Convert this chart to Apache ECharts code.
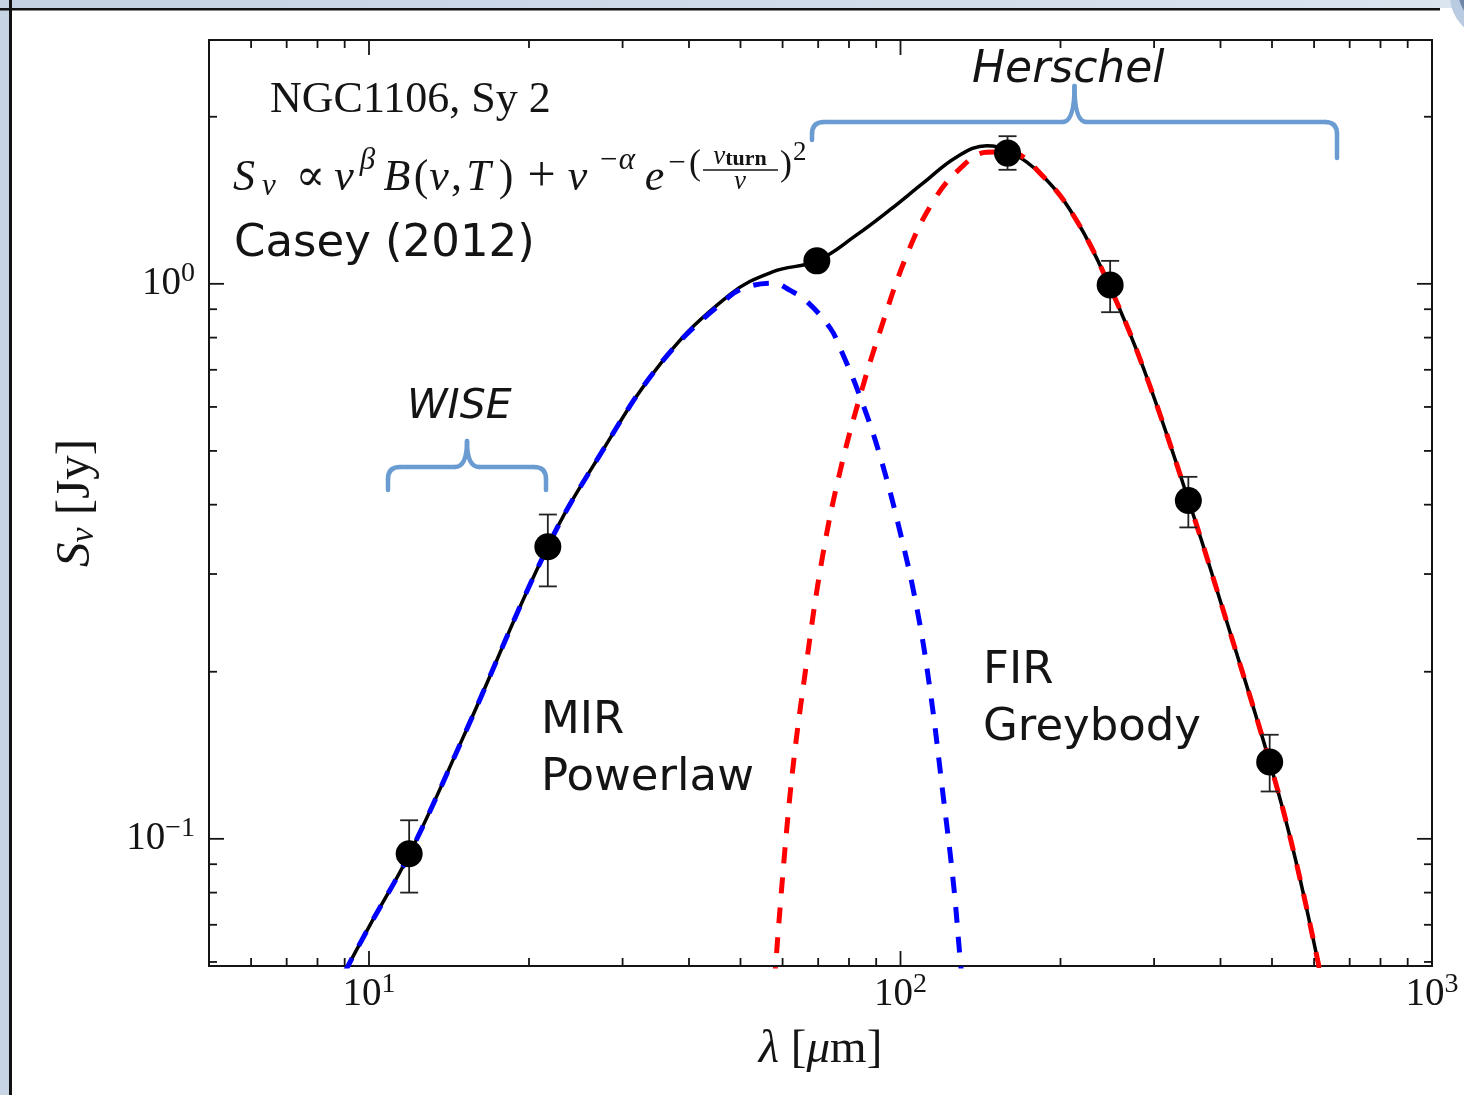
<!DOCTYPE html>
<html>
<head>
<meta charset="utf-8">
<title>NGC1106 SED</title>
<script src="https://cdn.jsdelivr.net/npm/echarts@6.0.0/dist/echarts.min.js"></script>
<style>
  html, body { margin: 0; padding: 0; background: #fff; }
  #chart { width: 1464px; height: 1095px; }
</style>
</head>
<body>
<div id="chart"></div>
<script>
  // photometry: WISE + Herschel (wavelength um, flux Jy, error range)
  const obsWave = [11.9, 21.7, 69.6, 159, 248, 348, 495];
  const obsFlux = [0.094, 0.336, 1.10, 1.72, 0.995, 0.407, 0.1375];
  const obsLow = [0.080, 0.285, 1.08, 1.605, 0.889, 0.364, 0.1217];
  const obsHigh = [0.108, 0.384, 1.12, 1.845, 1.10, 0.449, 0.154];

  // total fit (black)
  const fitWave = [9.0, 10.0, 11.92, 15.02, 21.69, 26.78, 35.75, 47.74, 57.61, 69.6, 82.7, 95.6, 110.4, 127.6, 145.3, 159.4, 185.6, 214.6, 248.0, 286.6, 348.3, 411.6, 495.0, 550, 612.1, 640];
  const fitFlux = [0.0575, 0.0694, 0.094, 0.152, 0.3358, 0.48, 0.7278, 0.9566, 1.052, 1.100, 1.225, 1.36, 1.52, 1.693, 1.773, 1.737, 1.561, 1.299, 0.985, 0.704, 0.4073, 0.245, 0.1375, 0.0942, 0.0592, 0.0475];

  // MIR power law (blue dashed)
  const mirWave = [9.0, 10.0, 11.92, 15.02, 21.69, 26.78, 35.75, 47.74, 52.06, 57.61, 62.0, 66.6, 73.7, 76.9, 83.9, 91.5, 99.8, 107.3, 113.6, 120.4, 125.8, 129.4, 131.5];
  const mirFlux = [0.0575, 0.0694, 0.094, 0.152, 0.3358, 0.48, 0.7278, 0.950, 0.990, 1.003, 0.973, 0.930, 0.833, 0.768, 0.627, 0.490, 0.3576, 0.2610, 0.1863, 0.1188, 0.0830, 0.0612, 0.052];

  // FIR greybody (red dashed)
  const firWave = [57.9, 61.9, 66.6, 71.5, 76.9, 83.9, 91.5, 102.7, 115.3, 129.4, 145.3, 159.4, 185.6, 214.6, 248.0, 286.6, 348.3, 411.6, 495.0, 550, 612.1, 640];
  const firFlux = [0.055, 0.1188, 0.2085, 0.3268, 0.4577, 0.627, 0.821, 1.125, 1.409, 1.613, 1.726, 1.728, 1.561, 1.299, 0.985, 0.704, 0.4073, 0.245, 0.1375, 0.0942, 0.0592, 0.0475];

  // axis ticks
  const xMajorTicks = [10, 100, 1000];
  const xMinorTicks = [6, 7, 8, 9, 20, 30, 40, 50, 60, 70, 80, 90, 200, 300, 400, 500, 600, 700, 800, 900];
  const yMajorTicks = [0.1, 1];
  const yMinorTicks = [0.06, 0.07, 0.08, 0.09, 0.2, 0.3, 0.4, 0.5, 0.6, 0.7, 0.8, 0.9, 2];

  const SERIF = '"Liberation Serif", "DejaVu Serif", serif';
  const SANS = '"DejaVu Sans", sans-serif';
  const INK = '#141414';
  const BRACE = '#6a9bd1';

  const pairs = (xs, ys) => xs.map((x, i) => [x, ys[i]]);

  function powLabel(v) {
    const e = Math.round(Math.log10(v));
    if (Math.abs(v / Math.pow(10, e) - 1) > 1e-6) return '';
    return '{b|10}{s|' + (e < 0 ? '\u2212' + (-e) : e) + '}';
  }

  const tickLabelRich = {
    b: { fontFamily: SERIF, fontSize: 39, color: INK, lineHeight: 39 },
    s: { fontFamily: SERIF, fontSize: 28, color: INK, lineHeight: 28, padding: [0, 0, 20, 0] }
  };

  const tickData = [];
  xMajorTicks.forEach(v => tickData.push([v, 1, 1]));
  xMinorTicks.forEach(v => tickData.push([v, 1, 0]));
  const yTickData = [];
  yMajorTicks.forEach(v => yTickData.push([10, v, 1]));
  yMinorTicks.forEach(v => yTickData.push([10, v, 0]));

  const tickStyle = { stroke: INK, lineWidth: 1.8 };

  // formula  S_nu ∝ nu^beta B(nu,T) + nu^-alpha e^-( ... , each piece gets a fixed width
  const formulaParts = [
    ['S', 'i', 29, 'left'], ['\u03bd', 'sub', 26, 'left'], ['\u221d', 'r', 45, 'center'], ['\u03bd', 'i', 22, 'left'], ['\u03b2', 'sup', 25, 'left'],
    ['B', 'i', 34, 'left'], ['(', 'r', 14, 'left'], ['\u03bd', 'i', 22, 'left'], [',', 'r', 13, 'left'], ['T', 'i', 31, 'left'], [')', 'r', 24, 'left'],
    ['+', 'plus', 47, 'center'], ['\u03bd', 'i', 25, 'left'], ['\u2212\u03b1', 'sup', 53, 'left'], ['e', 'i', 23, 'left'], ['\u2212', 'supr', 22, 'left'], ['(', 'par', 14, 'left']
  ];
  const formulaBase = {
    i: { fontFamily: SERIF, fontStyle: 'italic', fontSize: 44, fill: INK },
    r: { fontFamily: SERIF, fontSize: 44, fill: INK },
    plus: { fontFamily: SERIF, fontSize: 50, fill: INK },
    sub: { fontFamily: SERIF, fontStyle: 'italic', fontSize: 31, fill: INK, padding: [17, 0, 0, 0] },
    sup: { fontFamily: SERIF, fontStyle: 'italic', fontSize: 31, fill: INK, padding: [0, 0, 34, 0] },
    supr: { fontFamily: SERIF, fontSize: 31, fill: INK, padding: [0, 0, 28, 0] },
    par: { fontFamily: SERIF, fontSize: 36, fill: INK, padding: [0, 0, 26, 0] }
  };
  const formulaRich = {};
  let formulaText = '';
  formulaParts.forEach((p, k) => {
    const key = 'f' + k;
    formulaRich[key] = Object.assign({}, formulaBase[p[1]], { width: p[2], align: p[3] });
    formulaText += '{' + key + '|' + p[0] + '}';
  });

  // curly brace built from lines and quadratic curves
  function brace(x0, x1, yBar, yPeak, yEndL, yEndR) {
    const xm = (x0 + x1) / 2, r = 12;
    const st = { stroke: BRACE, lineWidth: 4.5, fill: null, lineCap: 'round' };
    const L = (a, b, c, d) => ({ type: 'line', shape: { x1: a, y1: b, x2: c, y2: d }, style: st });
    const Q = (a, b, cx, cy, c, d) => ({ type: 'bezierCurve', shape: { x1: a, y1: b, cpx1: cx, cpy1: cy, x2: c, y2: d }, style: st });
    return {
      type: 'group', z: 55,
      children: [
        L(x0, yEndL, x0, yBar + r), Q(x0, yBar + r, x0, yBar, x0 + r, yBar), L(x0 + r, yBar, xm - r, yBar),
        Q(xm - r, yBar, xm, yBar, xm, yPeak), Q(xm, yPeak, xm, yBar, xm + r, yBar),
        L(xm + r, yBar, x1 - r, yBar), Q(x1 - r, yBar, x1, yBar, x1, yBar + r), L(x1, yBar + r, x1, yEndR)
      ]
    };
  }

  const chart = echarts.init(document.getElementById('chart'));

  chart.setOption({
    animation: false,
    backgroundColor: '#fff',
    grid: {
      left: 209, top: 40, width: 1223, height: 926,
      show: true, borderColor: INK, borderWidth: 2, backgroundColor: 'transparent'
    },
    xAxis: {
      type: 'log', logBase: 10, min: 5, max: 1000,
      axisLine: { show: false },
      axisTick: { show: false },
      splitLine: { show: false },
      axisLabel: { formatter: powLabel, rich: tickLabelRich, margin: 9 },
      name: '{i|\u03bb}{r| [}{i|\u03bc}{r|m]}',
      nameLocation: 'middle',
      nameGap: 60,
      nameTextStyle: {
        rich: {
          i: { fontFamily: SERIF, fontStyle: 'italic', fontSize: 47, color: INK },
          r: { fontFamily: SERIF, fontSize: 47, color: INK }
        }
      }
    },
    yAxis: {
      type: 'log', logBase: 10, min: 0.059, max: 2.75,
      axisLine: { show: false },
      axisTick: { show: false },
      splitLine: { show: false },
      axisLabel: { formatter: powLabel, rich: tickLabelRich, margin: 14 },
      name: '{i|S}{sub|\u03bd}{r| [Jy]}',
      nameLocation: 'middle',
      nameRotate: 90,
      nameGap: 108,
      nameTextStyle: {
        rich: {
          i: { fontFamily: SERIF, fontStyle: 'italic', fontSize: 49, color: INK },
          sub: { fontFamily: SERIF, fontStyle: 'italic', fontSize: 34, color: INK, padding: [16, 0, 0, 0] },
          r: { fontFamily: SERIF, fontSize: 49, color: INK }
        }
      }
    },
    series: [
      {
        name: 'total',
        type: 'line',
        data: pairs(fitWave, fitFlux),
        smooth: 0.4,
        showSymbol: false,
        z: 2,
        lineStyle: { color: '#000', width: 3.5 }
      },
      {
        name: 'MIR powerlaw',
        type: 'line',
        data: pairs(mirWave, mirFlux),
        smooth: 0.4,
        showSymbol: false,
        z: 3,
        lineStyle: { color: '#0000ff', width: 5, type: [16, 14] }
      },
      {
        name: 'FIR greybody',
        type: 'line',
        data: pairs(firWave, firFlux),
        smooth: 0.4,
        showSymbol: false,
        z: 3,
        lineStyle: { color: '#ff0000', width: 5, type: [16, 14] }
      },
      {
        name: 'errors',
        type: 'custom',
        z: 4,
        silent: true,
        data: obsWave.map((w, i) => [w, obsLow[i], obsHigh[i]]),
        encode: { x: 0, y: [1, 2] },
        renderItem: function (params, api) {
          const lo = api.coord([api.value(0), api.value(1)]);
          const hi = api.coord([api.value(0), api.value(2)]);
          const cap = 9;
          const st = { stroke: '#222', lineWidth: 1.8 };
          return {
            type: 'group',
            children: [
              { type: 'line', shape: { x1: lo[0], y1: lo[1], x2: hi[0], y2: hi[1] }, style: st },
              { type: 'line', shape: { x1: lo[0] - cap, y1: lo[1], x2: lo[0] + cap, y2: lo[1] }, style: st },
              { type: 'line', shape: { x1: hi[0] - cap, y1: hi[1], x2: hi[0] + cap, y2: hi[1] }, style: st }
            ]
          };
        }
      },
      {
        name: 'data',
        type: 'scatter',
        z: 5,
        data: pairs(obsWave, obsFlux),
        symbol: 'circle',
        symbolSize: 27,
        itemStyle: { color: '#000', opacity: 1 }
      },
      {
        name: 'xticks',
        type: 'custom',
        silent: true,
        z: 6,
        data: tickData,
        renderItem: function (params, api) {
          const p = api.coord([api.value(0), api.value(1)]);
          const cs = params.coordSys;
          const len = api.value(2) ? 15 : 8;
          const bottom = cs.y + cs.height;
          return {
            type: 'group',
            children: [
              { type: 'line', shape: { x1: p[0], y1: bottom, x2: p[0], y2: bottom - len }, style: tickStyle },
              { type: 'line', shape: { x1: p[0], y1: cs.y, x2: p[0], y2: cs.y + len }, style: tickStyle }
            ]
          };
        }
      },
      {
        name: 'yticks',
        type: 'custom',
        silent: true,
        z: 6,
        data: yTickData,
        renderItem: function (params, api) {
          const p = api.coord([api.value(0), api.value(1)]);
          const cs = params.coordSys;
          const len = api.value(2) ? 15 : 8;
          const right = cs.x + cs.width;
          return {
            type: 'group',
            children: [
              { type: 'line', shape: { x1: cs.x, y1: p[1], x2: cs.x + len, y2: p[1] }, style: tickStyle },
              { type: 'line', shape: { x1: right, y1: p[1], x2: right - len, y2: p[1] }, style: tickStyle }
            ]
          };
        }
      }
    ],
    graphic: [
      // slide frame
      { type: 'rect', z: 50, shape: { x: 0, y: 0, width: 9, height: 1095 }, style: { fill: '#c6d4e4' } },
      { type: 'rect', z: 51, shape: { x: 9, y: 0, width: 3, height: 1095 }, style: { fill: '#111' } },
      {
        type: 'rect', z: 50, shape: { x: 0, y: 0, width: 1464, height: 8 },
        style: { fill: { type: 'linear', x: 0, y: 0, x2: 1, y2: 0, colorStops: [{ offset: 0, color: '#c4d2e3' }, { offset: 1, color: '#dbe4ef' }] } }
      },
      { type: 'rect', z: 51, shape: { x: 0, y: 8, width: 1440, height: 2.5 }, style: { fill: '#111' } },
      { type: 'circle', z: 52, shape: { cx: 1492, cy: -4, r: 42 }, style: { fill: '#b9cbe0' } },
      { type: 'circle', z: 53, shape: { cx: 1496, cy: -10, r: 38 }, style: { fill: '#6f86a6' } },

      // annotations
      {
        type: 'text', z: 60, x: 270, y: 100,
        style: { text: 'NGC1106, Sy 2', fontFamily: SERIF, fontSize: 44, fill: INK, verticalAlign: 'middle' }
      },
      {
        type: 'text', z: 60, x: 233, y: 178,
        style: { text: formulaText, verticalAlign: 'middle', rich: formulaRich }
      },
      {
        type: 'text', z: 60, x: 740, y: 157,
        style: {
          text: '{i|\u03bd}{b|turn}', align: 'center', verticalAlign: 'middle',
          rich: {
            i: { fontFamily: SERIF, fontStyle: 'italic', fontSize: 27, fill: INK },
            b: { fontFamily: SERIF, fontWeight: 'bold', fontSize: 22, fill: INK, padding: [4, 0, 0, 0] }
          }
        }
      },
      { type: 'line', z: 60, shape: { x1: 703, y1: 170, x2: 778, y2: 170 }, style: { stroke: INK, lineWidth: 1.5 } },
      {
        type: 'text', z: 60, x: 740, y: 182,
        style: { text: '\u03bd', fontFamily: SERIF, fontStyle: 'italic', fontSize: 27, fill: INK, align: 'center', verticalAlign: 'middle' }
      },
      {
        type: 'text', z: 60, x: 780, y: 166,
        style: { text: ')', fontFamily: SERIF, fontSize: 36, fill: INK, verticalAlign: 'middle' }
      },
      {
        type: 'text', z: 60, x: 793, y: 153,
        style: { text: '2', fontFamily: SERIF, fontSize: 27, fill: INK, verticalAlign: 'middle' }
      },
      {
        type: 'text', z: 60, x: 234, y: 244,
        style: { text: 'Casey (2012)', fontFamily: SANS, fontSize: 45, fill: INK, verticalAlign: 'middle' }
      },
      {
        type: 'text', z: 60, x: 407, y: 407,
        style: { text: 'WISE', fontFamily: SANS, fontStyle: 'italic', fontSize: 41, fill: INK, verticalAlign: 'middle' }
      },
      {
        type: 'text', z: 60, x: 972, y: 71,
        style: { text: 'Herschel', fontFamily: SANS, fontStyle: 'italic', fontSize: 44, fill: INK, verticalAlign: 'middle' }
      },
      {
        type: 'text', z: 60, x: 541, y: 693,
        style: { text: 'MIR\nPowerlaw', fontFamily: SANS, fontSize: 45, lineHeight: 57, fill: INK, verticalAlign: 'top' }
      },
      {
        type: 'text', z: 60, x: 983, y: 643,
        style: { text: 'FIR\nGreybody', fontFamily: SANS, fontSize: 45, lineHeight: 57, fill: INK, verticalAlign: 'top' }
      },

      // instrument braces
      brace(388, 546, 467, 441, 490, 490),
      brace(812, 1337, 122, 86, 140, 158)
    ]
  });
</script>
</body>
</html>
